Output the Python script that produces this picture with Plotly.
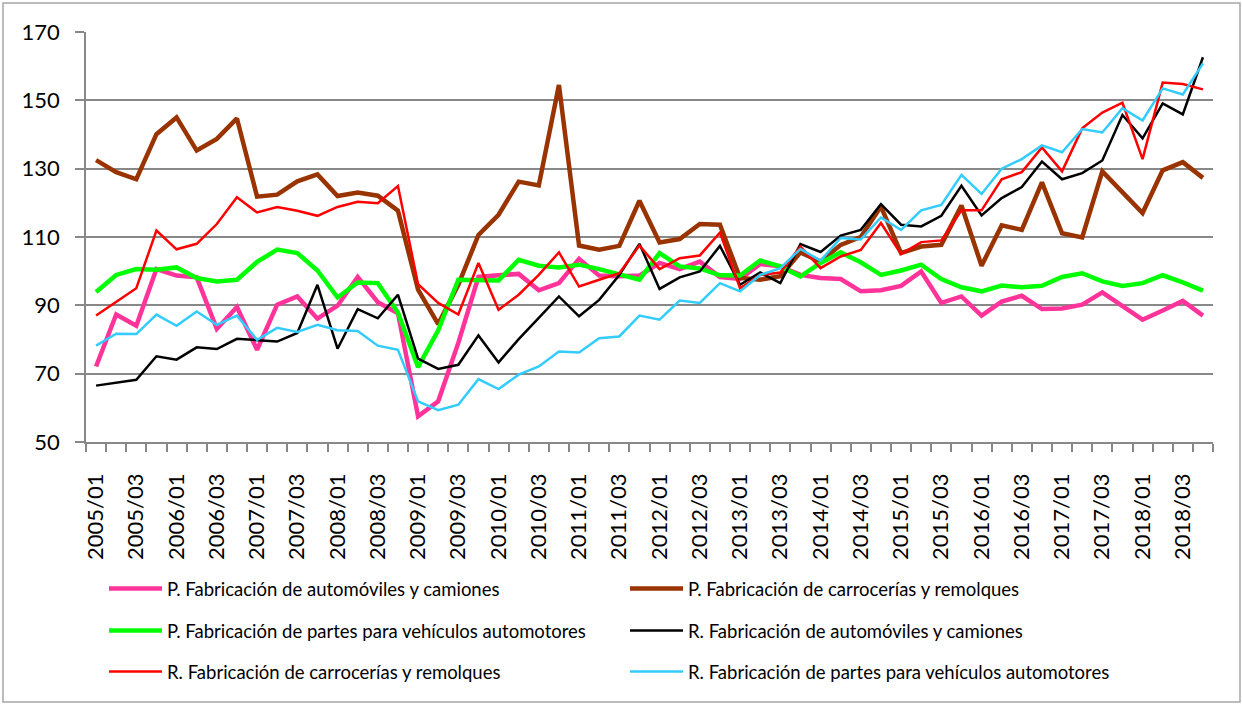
import plotly.graph_objects as go

years = list(range(2005, 2019))
quarters = ["01", "02", "03", "04"]
periods = [f"{y}/{q}" for y in years for q in quarters]

p_autos = [72.1, 87.3, 84.0, 100.6, 98.7, 98.2, 83.1, 89.5, 77.0, 90.2, 92.6, 86.1, 89.9, 98.3, 90.9, 87.7, 57.5, 61.9, 79.0, 98.3,
           98.8, 99.2, 94.4, 96.5, 103.6, 98.7, 98.5, 98.7, 102.4, 100.6, 102.8, 98.3, 97.7, 102.1, 101.4, 98.9, 98.0, 97.7, 94.1,
           94.4, 95.7, 99.9, 90.7, 92.6, 87.0, 91.1, 92.8, 88.9, 89.1, 90.2, 93.8, 89.9, 85.8, 88.5, 91.3, 87.0]
p_carro = [132.5, 129.0, 126.9, 140.1, 145.0, 135.3, 138.7, 144.7, 121.8, 122.4, 126.3, 128.3, 122.0, 123.0, 122.1, 117.7, 94.6, 84.5, 96.0, 110.6,
           116.5, 126.2, 125.1, 154.5, 107.5, 106.3, 107.4, 120.6, 108.4, 109.4, 113.8, 113.6, 98.0, 97.5, 98.5, 105.5, 102.8, 107.7, 110.0,
           118.9, 105.3, 107.2, 107.7, 119.2, 101.6, 113.4, 112.1, 126.0, 111.1, 109.9, 129.2, 123.0, 117.0, 129.5, 131.9, 127.3]
p_partes = [93.9, 98.9, 100.6, 100.4, 101.1, 98.0, 97.0, 97.5, 102.7, 106.3, 105.3, 100.2, 92.3, 96.7, 96.5, 87.9, 71.9, 82.7, 97.5, 97.5,
            97.3, 103.3, 101.6, 101.1, 101.9, 100.6, 98.9, 97.5, 105.3, 101.4, 100.8, 98.8, 98.7, 103.1, 101.4, 98.5, 102.4, 105.5, 102.6,
            98.9, 100.2, 101.9, 97.7, 95.3, 94.1, 95.8, 95.3, 95.7, 98.3, 99.4, 97.0, 95.7, 96.5, 98.8, 96.7, 94.3]
r_autos = [66.5, 67.3, 68.2, 75.1, 74.1, 77.7, 77.2, 80.2, 79.7, 79.4, 81.9, 96.0, 77.3, 88.9, 86.2, 93.1, 74.4, 71.4, 72.6, 81.2,
           73.3, 80.1, 86.3, 92.6, 86.8, 91.6, 98.9, 108.0, 94.8, 98.2, 99.9, 107.4, 96.0, 99.6, 96.5, 107.9, 105.6, 110.4, 112.1,
           119.6, 113.6, 113.1, 116.2, 125.0, 116.3, 121.4, 124.6, 132.1, 126.9, 128.7, 132.4, 145.7, 138.9, 149.1, 145.9, 162.6]
r_carro = [87.0, 90.9, 95.0, 111.9, 106.4, 108.0, 113.8, 121.6, 117.2, 118.8, 117.7, 116.2, 118.8, 120.3, 119.9, 124.9, 96.2, 90.7, 87.3, 102.4,
           88.7, 93.1, 98.9, 105.5, 95.5, 97.5, 99.4, 107.5, 100.6, 103.8, 104.6, 111.3, 95.0, 98.9, 99.6, 107.2, 100.9, 104.3, 106.2,
           114.1, 105.0, 108.5, 109.0, 117.8, 117.8, 126.9, 129.0, 136.2, 129.2, 141.8, 146.4, 149.3, 132.8, 155.2, 154.8, 153.2]
r_partes = [78.2, 81.7, 81.6, 87.3, 84.0, 88.2, 84.3, 87.0, 79.9, 83.4, 82.2, 84.3, 82.7, 82.5, 78.2, 77.0, 61.9, 59.3, 60.9, 68.4,
            65.5, 69.7, 72.1, 76.5, 76.2, 80.4, 80.9, 87.0, 85.8, 91.4, 90.7, 96.5, 94.1, 98.9, 100.9, 106.5, 103.1, 109.7, 109.3,
            115.7, 112.1, 117.8, 119.4, 128.2, 122.6, 130.0, 132.8, 136.8, 134.8, 141.6, 140.6, 147.7, 144.1, 153.5, 151.7, 160.8]

names = [
    "P. Fabricación de automóviles y camiones",
    "P. Fabricación de carrocerías y remolques",
    "P. Fabricación de partes para vehículos automotores",
    "R. Fabricación de automóviles y camiones",
    "R. Fabricación de carrocerías y remolques",
    "R. Fabricación de partes para vehículos automotores",
]
series = [p_autos, p_carro, p_partes, r_autos, r_carro, r_partes]
colors = ["#FF3399", "#993300", "#00FF00", "#000000", "#FF0000", "#33CCFF"]
widths = [4.5, 4.5, 4.5, 2.5, 2.5, 2.5]
legends = ["legend", "legend", "legend2", "legend2", "legend3", "legend3"]

x_idx = list(range(len(periods)))

fig = go.Figure()
for name, vals, col, w, lg in zip(names, series, colors, widths, legends):
    fig.add_trace(go.Scatter(x=x_idx, y=vals, mode="lines", name=name,
                             line=dict(color=col, width=w), legend=lg))

FONT = "Lato, Carlito, Calibri, sans-serif"
grid = "#888888"
H, W = 704, 1242
L, R, T, B = 86, 29, 32, 262
ph = H - T - B
pw = W - L - R

def py(px):
    return (H - B - px) / ph

def pxx(px):
    return (px - L) / pw

leg_common = dict(orientation="h", xanchor="left", yanchor="middle",
                  x=pxx(104), entrywidth=453, entrywidthmode="pixels",
                  itemwidth=53,
                  font=dict(family=FONT, size=18.5, color="#000000"),
                  bgcolor="rgba(0,0,0,0)", traceorder="normal")

fig.update_layout(
    width=W, height=H, autosize=False,
    margin=dict(l=L, r=R, t=T, b=B, autoexpand=False),
    paper_bgcolor="white", plot_bgcolor="white",
    showlegend=True,
    legend=dict(y=py(589), **leg_common),
    legend2=dict(y=py(631), **leg_common),
    legend3=dict(y=py(672), **leg_common),
    xaxis=dict(range=[-0.5, len(periods) - 0.5], showgrid=False, zeroline=False,
               automargin=False,
               showline=True, linecolor=grid, linewidth=1.5,
               tickmode="array", tickvals=x_idx[::2], ticktext=periods[::2],
               tickangle=-90, ticks="", ticklabelstandoff=21,
               tickfont=dict(family=FONT, size=22, color="#000000"),
               minor=dict(ticks="outside", ticklen=8, tickcolor=grid, tickwidth=1.5,
                          tickmode="linear", tick0=-0.5, dtick=1, showgrid=False)),
    yaxis=dict(range=[50, 170], dtick=20, tick0=50, showgrid=True, gridcolor=grid,
               automargin=False,
               gridwidth=1.5, zeroline=False, showline=True, linecolor=grid, linewidth=1.5,
               ticks="outside", ticklen=9, tickcolor=grid, tickwidth=1.5,
               ticklabelstandoff=11,
               tickfont=dict(family=FONT, size=22, color="#000000")),
    shapes=[dict(type="rect", xref="paper", yref="paper",
                 x0=pxx(3), x1=pxx(1240), y0=py(702), y1=py(3),
                 line=dict(color="#A6A6A6", width=1.5), fillcolor="rgba(0,0,0,0)",
                 layer="below")],
)

fig.write_html("out.html", config={"displayModeBar": False},
               post_script="document.body.style.margin='0';")
